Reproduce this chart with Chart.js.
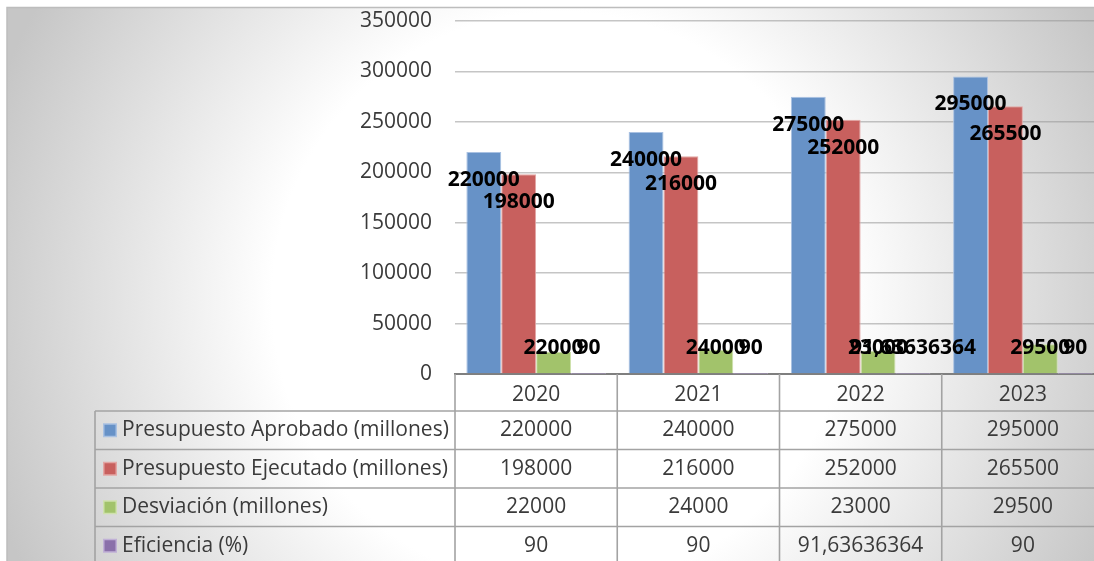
<!DOCTYPE html>
<html>
<head>
<meta charset="utf-8">
<script src="https://cdn.jsdelivr.net/npm/chart.js@4.4.1/dist/chart.umd.min.js"></script>
<style>
  html, body { margin: 0; padding: 0; overflow: hidden; background: #ffffff; }
  #wrap { width: 1094px; height: 561px; overflow: hidden; position: relative; }
  canvas { position: absolute; left: 0; top: 0; }
</style>
</head>
<body>
<div id="wrap"><canvas id="c" width="1110" height="561"></canvas></div>
<script>
// ---- data ----
const categories = ['2020', '2021', '2022', '2023'];
const seriesNames = ['Presupuesto Aprobado (millones)', 'Presupuesto Ejecutado (millones)', 'Desviación (millones)', 'Eficiencia (%)'];
const aprobado = [220000, 240000, 275000, 295000];
const ejecutado = [198000, 216000, 252000, 265500];
const desviacion = [22000, 24000, 23000, 29500];
const eficiencia = [90, 90, 91.63636364, 90];
const yTicks = [0, 50000, 100000, 150000, 200000, 250000, 300000, 350000];

// ---- styles ----
const fills = ['#6792c7', '#c8605e', '#a2c36b', '#8a70aa'];
const edges = ['#a9c1e2', '#e3a6a4', '#cfe1ad', '#c0b0d6'];
const FONT = '"Open Sans", "DejaVu Sans", sans-serif';

function fmt(v) {
  return String(v).replace('.', ',');
}

const bgPlugin = {
  id: 'bg',
  beforeDraw(chart) {
    const ctx = chart.ctx;
    const W = chart.width, H = chart.height;
    ctx.save();
    ctx.fillStyle = '#ffffff';
    ctx.fillRect(0, 0, W, H);
    const g = ctx.createRadialGradient(560, 300, 0, 560, 300, 600);
    g.addColorStop(0, '#ffffff');
    g.addColorStop(0.48, '#ffffff');
    g.addColorStop(1, '#c6c6c6');
    ctx.fillStyle = g;
    ctx.fillRect(7, 7, W - 7, H - 7);
    ctx.strokeStyle = '#bdbdbd';
    ctx.lineWidth = 1.5;
    ctx.beginPath();
    ctx.moveTo(7, H);
    ctx.lineTo(7, 7.5);
    ctx.lineTo(W, 7.5);
    ctx.stroke();
    ctx.restore();
  }
};

const labelPlugin = {
  id: 'barLabels',
  afterDatasetsDraw(chart) {
    const ctx = chart.ctx;
    const yScale = chart.scales.y;
    const zeroY = yScale.getPixelForValue(0);
    ctx.save();
    ctx.font = 'bold 21px ' + FONT;
    ctx.fillStyle = '#000000';
    ctx.textAlign = 'center';
    ctx.textBaseline = 'middle';
    chart.data.datasets.forEach((ds, i) => {
      const meta = chart.getDatasetMeta(i);
      meta.data.forEach((bar, j) => {
        const y = Math.min(bar.y + 28, zeroY - 26);
        ctx.fillText(fmt(ds.data[j]), bar.x, y);
      });
    });
    ctx.restore();
  }
};

const tablePlugin = {
  id: 'dataTable',
  afterDraw(chart) {
    const ctx = chart.ctx;
    const area = chart.chartArea;
    const xScale = chart.scales.x;
    const n = categories.length;
    const catW = (area.right - area.left) / n;
    const top = area.bottom;
    const headerH = 37;
    const rowH = 38.5;
    const legendLeft = 95;
    const H = chart.height;
    ctx.save();
    ctx.strokeStyle = '#a3a3a3';
    ctx.lineWidth = 1.6;
    for (let i = 0; i <= n; i++) {
      const x = area.left + i * catW;
      ctx.beginPath();
      ctx.moveTo(x, top);
      ctx.lineTo(x, H);
      ctx.stroke();
    }
    ctx.beginPath();
    ctx.moveTo(legendLeft, top + headerH);
    ctx.lineTo(legendLeft, H);
    ctx.stroke();
    for (let r = 0; r < seriesNames.length; r++) {
      const y = top + headerH + r * rowH;
      ctx.beginPath();
      ctx.moveTo(legendLeft, y);
      ctx.lineTo(chart.width, y);
      ctx.stroke();
    }
    ctx.font = '21px ' + FONT;
    ctx.textBaseline = 'middle';
    chart.data.datasets.forEach((ds, r) => {
      const cy = top + headerH + r * rowH + rowH / 2;
      ctx.fillStyle = edges[r];
      ctx.fillRect(103, cy - 7, 14, 14);
      ctx.fillStyle = fills[r];
      ctx.fillRect(104.5, cy - 5.5, 11, 11);
      ctx.fillStyle = '#3a3a3a';
      ctx.textAlign = 'left';
      ctx.fillText(ds.label, 122, cy);
      ctx.textAlign = 'center';
      ds.data.forEach((v, j) => {
        ctx.fillText(fmt(v), xScale.getPixelForValue(j), cy);
      });
    });
    ctx.restore();
  }
};

const datasets = [aprobado, ejecutado, desviacion, eficiencia].map((arr, i) => ({
  label: seriesNames[i],
  data: arr,
  backgroundColor: fills[i],
  borderColor: edges[i],
  borderWidth: 1,
  categoryPercentage: 0.86,
  barPercentage: 1.0
}));

new Chart(document.getElementById('c'), {
  type: 'bar',
  data: { labels: categories, datasets },
  options: {
    responsive: false,
    devicePixelRatio: 1,
    animation: false,
    layout: { padding: { left: 0, top: 21, right: 6, bottom: 0 } },
    plugins: {
      legend: { display: false },
      tooltip: { enabled: false }
    },
    scales: {
      x: {
        grid: { display: false, drawTicks: false },
        border: { display: true, color: '#7f7f7f', width: 2 },
        ticks: {
          autoSkip: false, maxRotation: 0, minRotation: 0,
          color: '#3a3a3a', font: { family: FONT, size: 21 }, padding: 8
        },
        afterFit(scale) { scale.height = 187; }
      },
      y: {
        min: 0, max: 350000,
        afterBuildTicks(scale) { scale.ticks = yTicks.map(v => ({ value: v })); },
        grid: {
          color: 'rgba(150,150,150,0.55)', lineWidth: 1.5,
          drawTicks: true, tickLength: 20, tickColor: 'rgba(0,0,0,0)'
        },
        border: { display: false },
        ticks: {
          color: '#3a3a3a', font: { family: FONT, size: 21 }, padding: 3,
          callback: (v) => String(v)
        },
        afterFit(scale) { scale.width = 455; }
      }
    }
  },
  plugins: [bgPlugin, labelPlugin, tablePlugin]
});
</script>
</body>
</html>
